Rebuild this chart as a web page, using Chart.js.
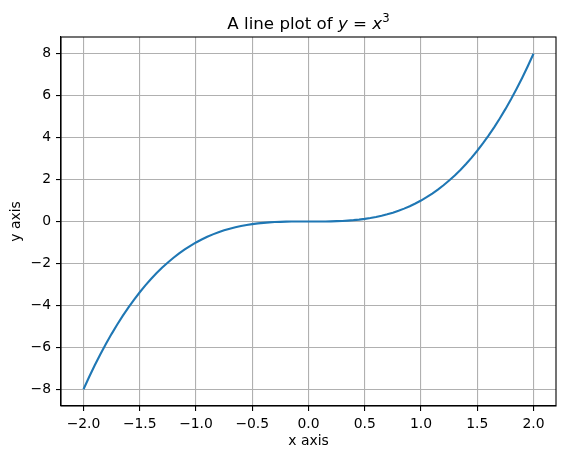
<!DOCTYPE html>
<html>
<head>
<meta charset="utf-8">
<script src="https://cdn.jsdelivr.net/npm/chart.js@4/dist/chart.umd.min.js"></script>
<style>
  html, body { margin: 0; padding: 0; background: #fff; }
  canvas { display: block; }
</style>
</head>
<body>
<canvas id="chart" width="565" height="459"></canvas>
<script>
// Valores (curva y = x³ entre -2 y 2, paso 0.05).
const xValues = [
  -2.0, -1.95, -1.9, -1.85, -1.8, -1.75, -1.7, -1.65, -1.6, -1.55,
  -1.5, -1.45, -1.4, -1.35, -1.3, -1.25, -1.2, -1.15, -1.1, -1.05,
  -1.0, -0.95, -0.9, -0.85, -0.8, -0.75, -0.7, -0.65, -0.6, -0.55,
  -0.5, -0.45, -0.4, -0.35, -0.3, -0.25, -0.2, -0.15, -0.1, -0.05,
  0.0,
  0.05, 0.1, 0.15, 0.2, 0.25, 0.3, 0.35, 0.4, 0.45, 0.5,
  0.55, 0.6, 0.65, 0.7, 0.75, 0.8, 0.85, 0.9, 0.95, 1.0,
  1.05, 1.1, 1.15, 1.2, 1.25, 1.3, 1.35, 1.4, 1.45, 1.5,
  1.55, 1.6, 1.65, 1.7, 1.75, 1.8, 1.85, 1.9, 1.95, 2.0,
];
const yValues = [
  -8.0, -7.415, -6.859, -6.332, -5.832, -5.359, -4.913, -4.492, -4.096, -3.724,
  -3.375, -3.049, -2.744, -2.46, -2.197, -1.953, -1.728, -1.521, -1.331, -1.158,
  -1.0, -0.857, -0.729, -0.614, -0.512, -0.422, -0.343, -0.275, -0.216, -0.166,
  -0.125, -0.091, -0.064, -0.043, -0.027, -0.016, -0.008, -0.003, -0.001, 0.0,
  0.0,
  0.0, 0.001, 0.003, 0.008, 0.016, 0.027, 0.043, 0.064, 0.091, 0.125,
  0.166, 0.216, 0.275, 0.343, 0.422, 0.512, 0.614, 0.729, 0.857, 1.0,
  1.158, 1.331, 1.521, 1.728, 1.953, 2.197, 2.46, 2.744, 3.049, 3.375,
  3.724, 4.096, 4.492, 4.913, 5.359, 5.832, 6.332, 6.859, 7.415, 8.0,
];
const xTicks = [-2.0, -1.5, -1.0, -0.5, 0.0, 0.5, 1.0, 1.5, 2.0];
const yTicks = [-8, -6, -4, -2, 0, 2, 4, 6, 8];

const titleText = 'A line plot of ';
const xLabel = 'x axis';
const yLabel = 'y axis';

const FONT = "'DejaVu Sans', sans-serif";
const minus = (s) => s.replace('-', '\u2212');

// Marco completo del área de trazado (arriba y derecha incluidos).
const framePlugin = {
  id: 'frame',
  afterDraw(chart) {
    const { ctx, chartArea: a } = chart;
    ctx.save();
    ctx.strokeStyle = '#000';
    ctx.lineWidth = 1.1;
    ctx.strokeRect(a.left, a.top, a.right - a.left, a.bottom - a.top);
    ctx.restore();
  },
};

// Título con la parte matemática en cursiva: "A line plot of y = x³".
const mathTitlePlugin = {
  id: 'mathTitle',
  afterDraw(chart) {
    const { ctx, chartArea: a } = chart;
    const size = 16.67;
    const parts = [
      { t: titleText, f: `${size}px ${FONT}`, dy: 0 },
      { t: 'y', f: `italic ${size}px ${FONT}`, dy: 0 },
      { t: ' = ', f: `${size}px ${FONT}`, dy: 0 },
      { t: 'x', f: `italic ${size}px ${FONT}`, dy: 0 },
      { t: '3', f: `${size * 0.7}px ${FONT}`, dy: -7 },
    ];
    ctx.save();
    ctx.fillStyle = '#000';
    ctx.textBaseline = 'alphabetic';
    ctx.textAlign = 'left';
    let total = 0;
    parts.forEach((p) => { ctx.font = p.f; p.w = ctx.measureText(p.t).width; total += p.w; });
    let x = (a.left + a.right) / 2 - total / 2;
    const baseY = a.top - 8;
    parts.forEach((p) => {
      ctx.font = p.f;
      ctx.fillText(p.t, x, baseY + p.dy);
      x += p.w;
    });
    ctx.restore();
  },
};

const tickFont = { family: FONT, size: 13.9 };

new Chart(document.getElementById('chart'), {
  type: 'line',
  data: {
    datasets: [{
      data: xValues.map((x, i) => ({ x, y: yValues[i] })),
      borderColor: '#1f77b4',
      borderWidth: 2.1,
      pointRadius: 0,
      tension: 0,
      fill: false,
    }],
  },
  options: {
    responsive: false,
    devicePixelRatio: 1,
    animation: false,
    layout: { padding: { left: 0, top: 37, right: 9, bottom: 0 } },
    plugins: {
      legend: { display: false },
      title: { display: false },
      tooltip: { enabled: false },
    },
    scales: {
      x: {
        type: 'linear',
        min: -2.2,
        max: 2.2,
        afterBuildTicks: (scale) => { scale.ticks = xTicks.map((v) => ({ value: v })); },
        afterFit: (scale) => { scale.height = 53; },
        grid: { color: '#b0b0b0', lineWidth: 1.1, tickColor: '#000', tickLength: 5, tickWidth: 1.1 },
        border: { display: true, color: '#000', width: 1.1 },
        ticks: {
          color: '#000',
          font: tickFont,
          padding: 5,
          maxRotation: 0,
          autoSkip: false,
          callback: (v) => minus(Number(v).toFixed(1)),
        },
        title: { display: true, text: xLabel, color: '#000', font: tickFont, padding: { top: 0, bottom: 9 } },
      },
      y: {
        type: 'linear',
        min: -8.8,
        max: 8.8,
        afterBuildTicks: (scale) => { scale.ticks = yTicks.map((v) => ({ value: v })); },
        afterFit: (scale) => { scale.width = 61; },
        grid: { color: '#b0b0b0', lineWidth: 1.1, tickColor: '#000', tickLength: 5, tickWidth: 1.1 },
        border: { display: true, color: '#000', width: 1.1 },
        ticks: {
          color: '#000',
          font: tickFont,
          padding: 5,
          autoSkip: false,
          callback: (v) => minus(String(v)),
        },
        title: { display: true, text: yLabel, color: '#000', font: tickFont, padding: { top: 8, bottom: 0 } },
      },
    },
  },
  plugins: [framePlugin, mathTitlePlugin],
});
</script>
</body>
</html>
